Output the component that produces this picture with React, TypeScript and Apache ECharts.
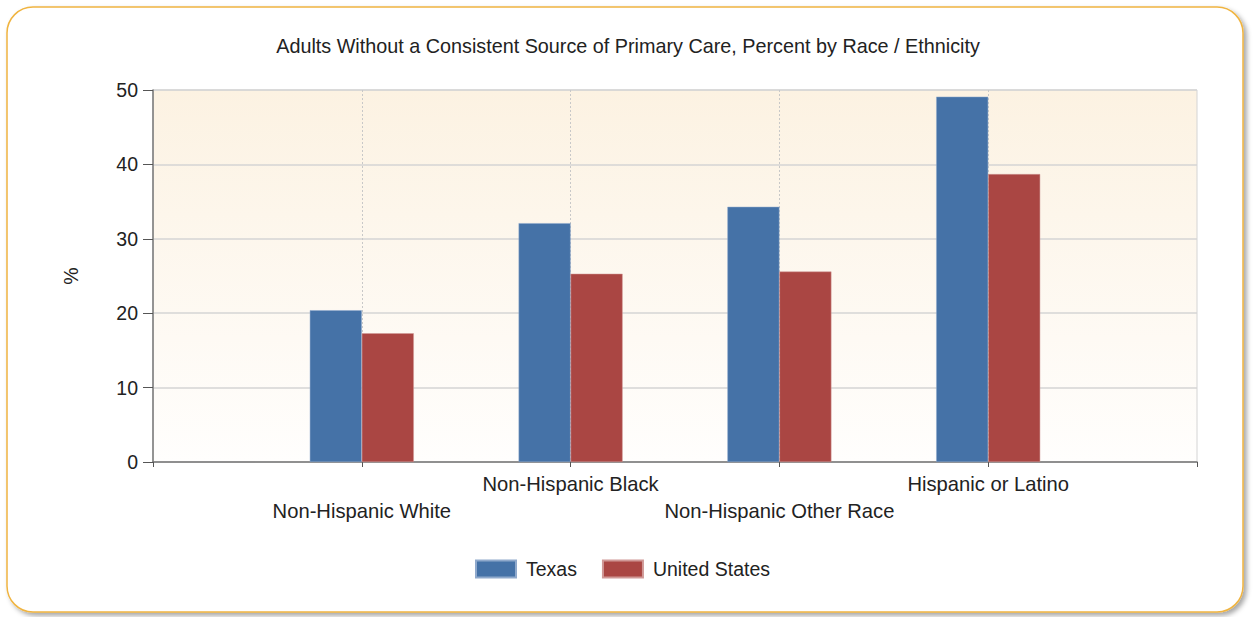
import React, { useEffect, useRef } from "react";
import * as echarts from "echarts";

const titleText = "Adults Without a Consistent Source of Primary Care, Percent by Race / Ethnicity";
// slots: empty edges so categories sit at positions 1..4 of 0..5
const categories = ["", "Non-Hispanic White", "Non-Hispanic Black", "Non-Hispanic Other Race", "Hispanic or Latino", ""];
const texasValues = [null, 20.4, 32.1, 34.3, 49.1, null];
const usValues = [null, 17.3, 25.3, 25.6, 38.7, null];
const seriesNames = ["Texas", "United States"];
const yTicks = { min: 0, max: 50, interval: 10 };

const FONT = "'Liberation Sans', Arial, sans-serif";

export default function App() {
  const ref = useRef<HTMLDivElement>(null);
  useEffect(() => {
    if (!ref.current) return;
    const chart = echarts.init(ref.current, undefined, { renderer: "svg" });
    chart.setOption({
      animation: false,
      textStyle: { fontFamily: FONT },
      graphic: [
        {
          type: "rect",
          z: -10,
          shape: { x: 7, y: 7, width: 1236, height: 605, r: 26 },
          style: {
            fill: "#ffffff",
            stroke: "#f0b440",
            lineWidth: 1.5,
            shadowBlur: 5,
            shadowOffsetX: 3,
            shadowOffsetY: 3,
            shadowColor: "rgba(0,0,0,0.35)",
          },
        },
      ],
      title: {
        text: titleText,
        left: 628,
        textAlign: "center",
        top: 36,
        padding: 0,
        textStyle: { fontFamily: FONT, fontSize: 19.8, fontWeight: "normal", color: "#222" },
      },
      legend: {
        data: seriesNames,
        left: 475,
        top: 559,
        padding: 0,
        itemWidth: 40,
        itemHeight: 17,
        itemGap: 25,
        icon: "rect",
        textStyle: { fontFamily: FONT, fontSize: 19.5, color: "#222", padding: [0, 0, 0, 5] },
      },
      grid: {
        left: 153,
        right: 57,
        top: 90,
        bottom: 155,
        show: true,
        borderColor: "#d4d4d4",
        borderWidth: 1,
        backgroundColor: new echarts.graphic.LinearGradient(0, 0, 0, 1, [
          { offset: 0, color: "#fcf2e2" },
          { offset: 1, color: "#fffefd" },
        ]),
      },
      xAxis: {
        type: "category",
        data: categories,
        boundaryGap: false,
        axisLine: { lineStyle: { color: "#777", width: 1.5 } },
        axisTick: { show: true, length: 5, alignWithLabel: true, lineStyle: { color: "#555" } },
        axisLabel: {
          interval: 0,
          margin: 8,
          fontFamily: FONT,
          fontSize: 20.2,
          color: "#222",
          lineHeight: 27,
          formatter: (v: string, i: number) => (i % 2 === 1 ? "\n" + v : v),
        },
        splitLine: {
          show: true,
          interval: (i: number) => i >= 1 && i <= 4,
          lineStyle: { color: "#c8c8c8", type: [2, 2], width: 1 },
        },
      },
      yAxis: {
        type: "value",
        min: yTicks.min,
        max: yTicks.max,
        interval: yTicks.interval,
        name: "%",
        nameLocation: "middle",
        nameGap: 72,
        nameTextStyle: { fontFamily: FONT, fontSize: 19.5, color: "#222" },
        axisLine: { show: true, lineStyle: { color: "#777", width: 1.5 } },
        axisTick: { show: true, length: 10, lineStyle: { color: "#555" } },
        axisLabel: { margin: 15, fontFamily: FONT, fontSize: 19.5, color: "#222" },
        splitLine: { show: true, lineStyle: { color: "#d4d4d4", width: 1.5 } },
      },
      series: [
        {
          name: seriesNames[0],
          type: "bar",
          data: texasValues,
          barWidth: 52,
          barGap: "0%",
          itemStyle: { color: "#4572a7", borderColor: "#8fa9cc", borderWidth: 0.5 },
        },
        {
          name: seriesNames[1],
          type: "bar",
          data: usValues,
          barWidth: 52,
          barGap: "0%",
          itemStyle: { color: "#aa4643", borderColor: "#d09896", borderWidth: 0.5 },
        },
      ],
    });
    return () => chart.dispose();
  }, []);
  return (
    <div
      ref={ref}
      style={{ position: "fixed", left: 0, top: 0, width: 1254, height: 617, background: "#fff" }}
    />
  );
}
